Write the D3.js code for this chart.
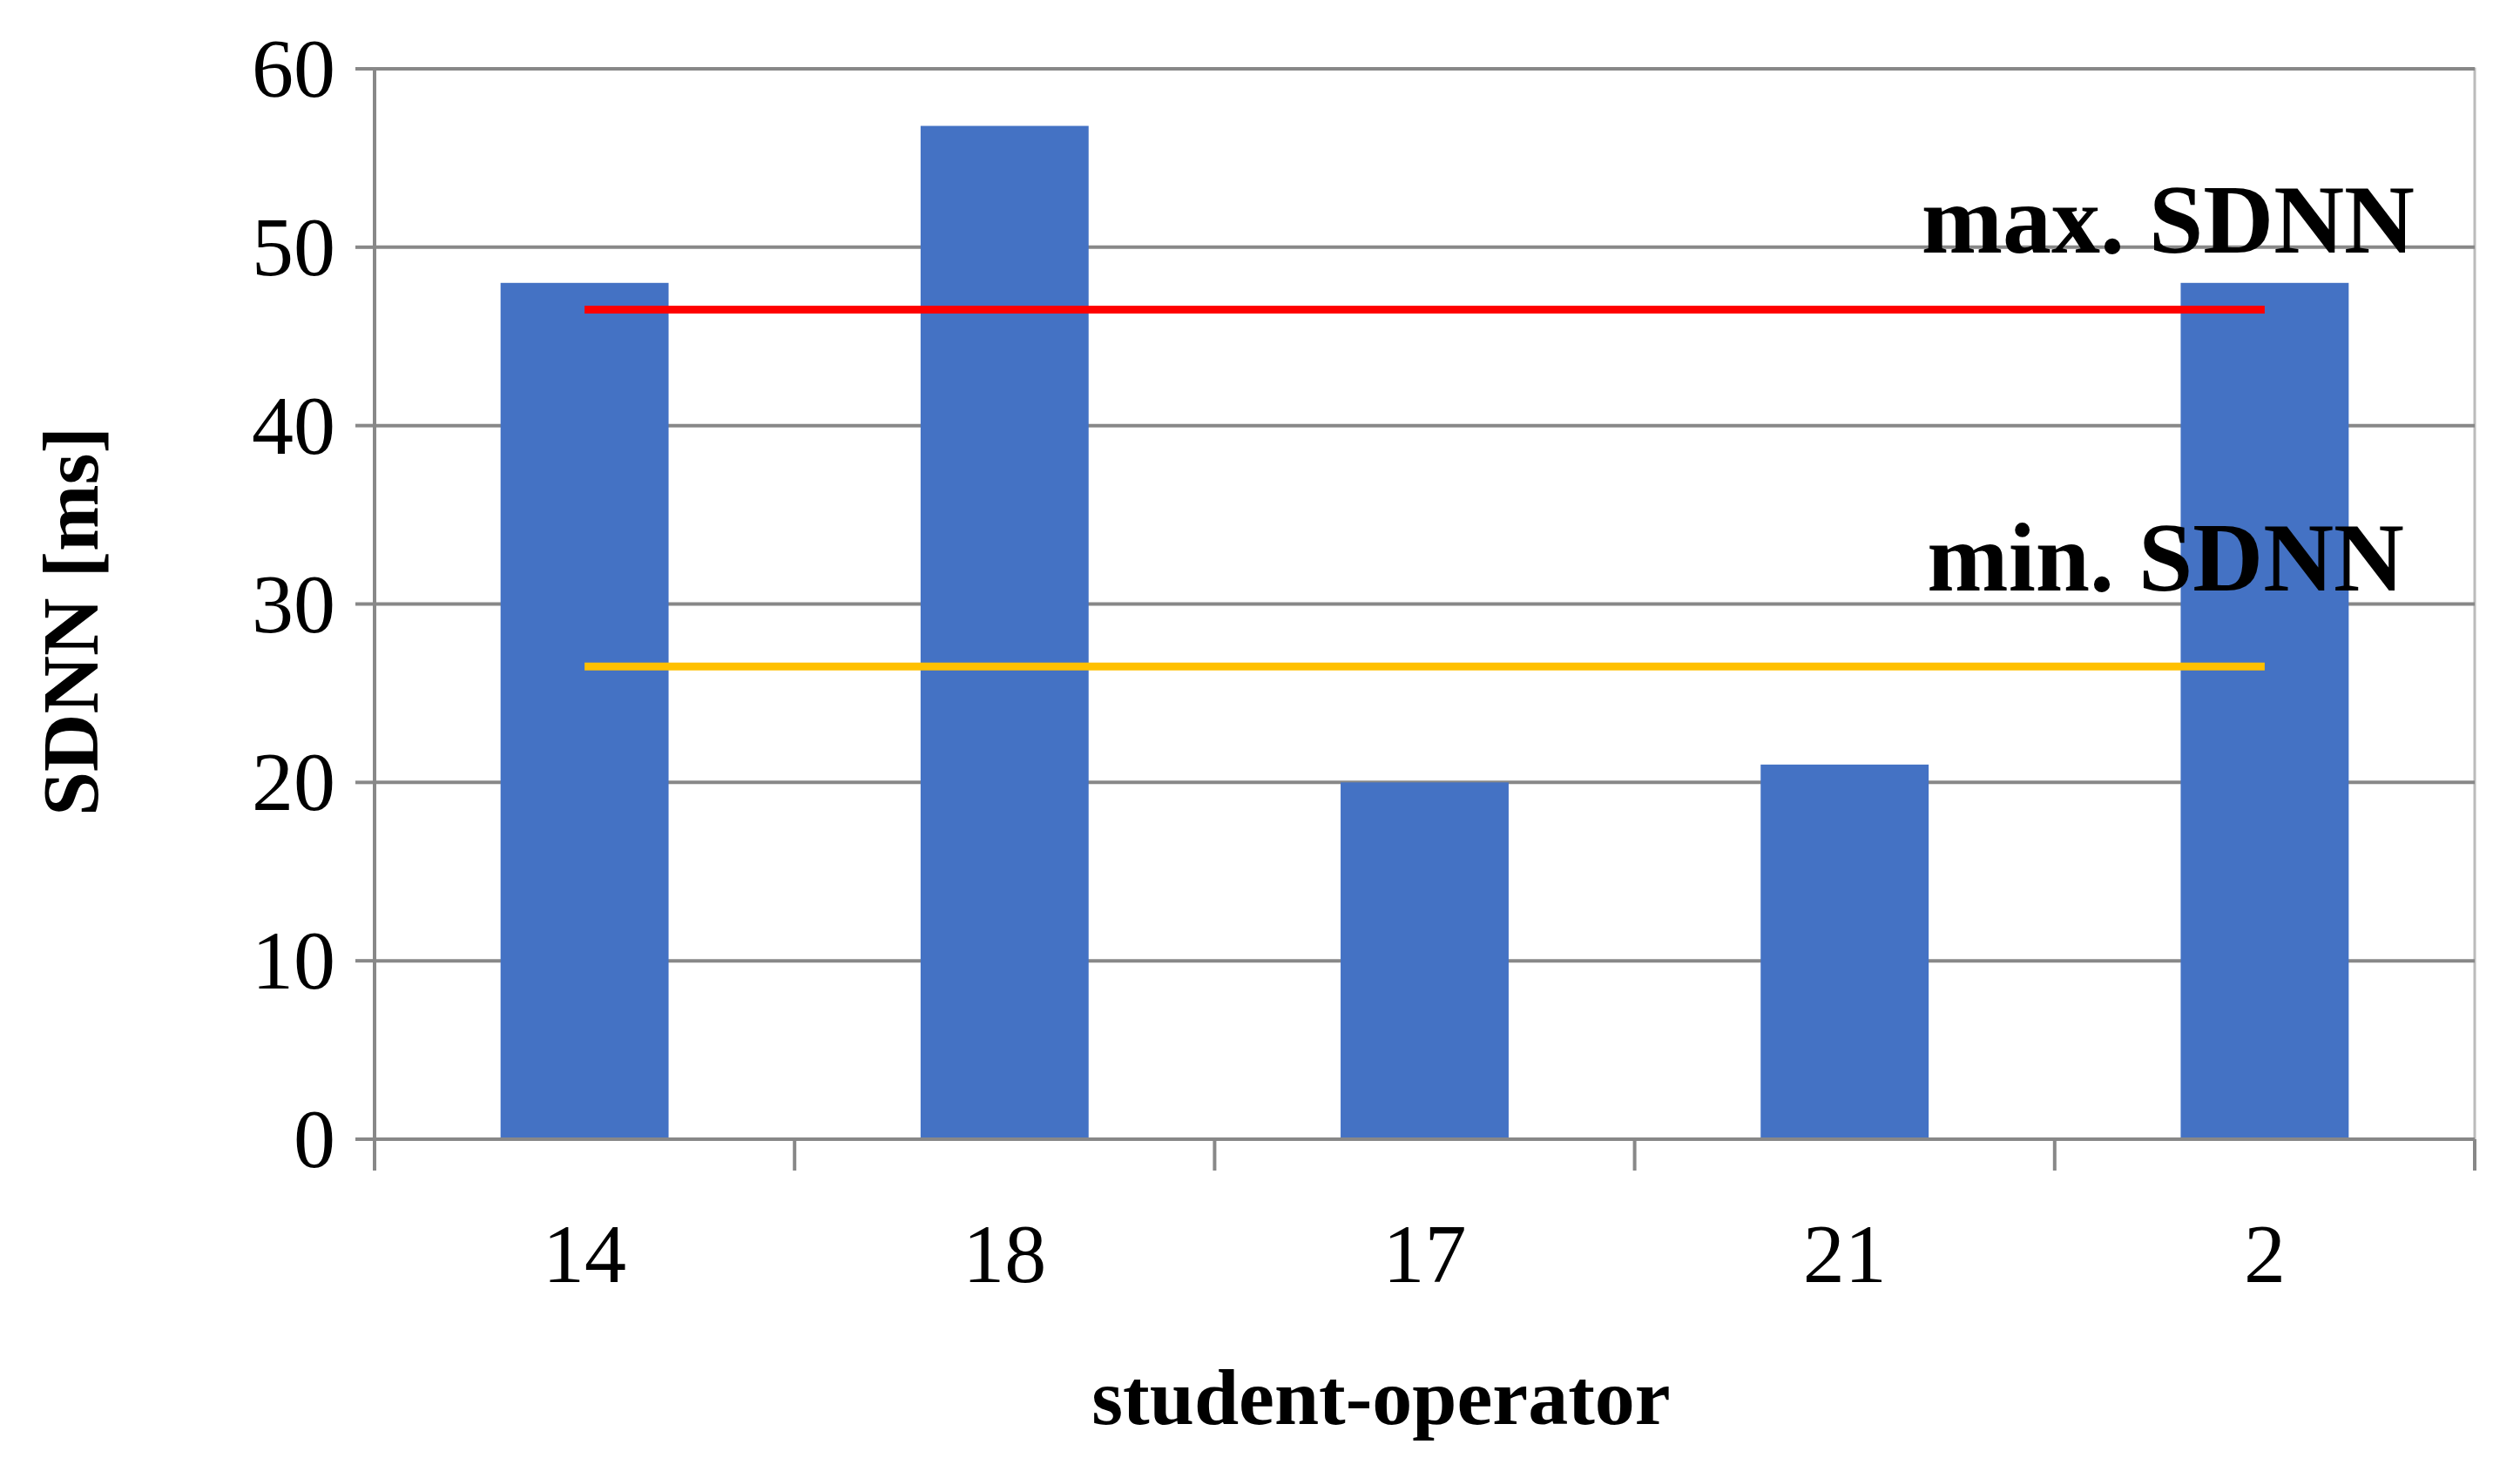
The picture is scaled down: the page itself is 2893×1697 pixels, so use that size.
<!DOCTYPE html>
<html>
<head>
<script src="https://d3js.org/d3.v7.min.js"></script>
<style>body{margin:0;background:#fff}</style>
</head>
<body>
<script>
var categories = ['14', '18', '17', '21', '2'];
var values = [48, 56.8, 20, 21, 48];
var yTicks = [0, 10, 20, 30, 40, 50, 60];
var maxSDNN = 46.5, minSDNN = 26.5;

var width = 2893, height = 1697;
var m = {left: 430, right: 52, top: 79, bottom: 389};

var svg = d3.select('body').append('svg').attr('width', width).attr('height', height)
    .style('font-family', '"Liberation Serif", "Times New Roman", serif');

var x = d3.scaleBand().domain(categories).range([m.left, width - m.right]).paddingInner(0.6).paddingOuter(0.3);
var xo = d3.scaleBand().domain(categories).range([m.left, width - m.right]);
var y = d3.scaleLinear().domain([0, 60]).range([height - m.bottom, m.top]);

// frame
svg.append('rect').attr('x', m.left).attr('y', m.top)
    .attr('width', width - m.left - m.right).attr('height', y(0) - m.top)
    .attr('fill', 'none').attr('stroke', '#bbb').attr('stroke-width', 3);

// grid
svg.selectAll('.grid').data(yTicks.slice(1)).join('line')
    .attr('x1', m.left).attr('x2', width - m.right)
    .attr('y1', d => y(d)).attr('y2', d => y(d))
    .attr('stroke', '#888').attr('stroke-width', 4);

// bars
svg.selectAll('.bar').data(values).join('rect')
    .attr('x', (d, i) => xo(categories[i]) + xo.bandwidth() * 0.3)
    .attr('width', xo.bandwidth() * 0.4)
    .attr('y', d => y(d)).attr('height', d => y(0) - y(d))
    .attr('fill', '#4472c4');

// reference lines
var c0 = xo(categories[0]) + xo.bandwidth() / 2, c4 = xo(categories[4]) + xo.bandwidth() / 2;
svg.append('line').attr('x1', c0).attr('x2', c4).attr('y1', y(maxSDNN)).attr('y2', y(maxSDNN))
    .attr('stroke', '#ff0000').attr('stroke-width', 9);
svg.append('line').attr('x1', c0).attr('x2', c4).attr('y1', y(minSDNN)).attr('y2', y(minSDNN))
    .attr('stroke', '#ffc000').attr('stroke-width', 9);

svg.append('text').attr('x', 2772).attr('y', 290).attr('text-anchor', 'end')
    .attr('font-weight', 'bold').attr('font-size', 112).text('max. SDNN');
svg.append('text').attr('x', 2760).attr('y', 678).attr('text-anchor', 'end')
    .attr('font-weight', 'bold').attr('font-size', 112).text('min. SDNN');

// y axis
svg.append('line').attr('x1', m.left).attr('x2', m.left).attr('y1', m.top).attr('y2', y(0))
    .attr('stroke', '#888').attr('stroke-width', 4);
svg.selectAll('.ytick').data(yTicks).join('line')
    .attr('x1', m.left - 22).attr('x2', m.left).attr('y1', d => y(d)).attr('y2', d => y(d))
    .attr('stroke', '#888').attr('stroke-width', 4);
svg.selectAll('.ylab').data(yTicks).join('text')
    .attr('x', m.left - 45).attr('y', d => y(d) + 32).attr('text-anchor', 'end')
    .attr('font-size', 96).text(d => d);

// x axis
svg.append('line').attr('x1', m.left).attr('x2', width - m.right).attr('y1', y(0)).attr('y2', y(0))
    .attr('stroke', '#888').attr('stroke-width', 4);
svg.selectAll('.xtick').data(d3.range(categories.length + 1)).join('line')
    .attr('x1', d => m.left + d * xo.bandwidth()).attr('x2', d => m.left + d * xo.bandwidth())
    .attr('y1', y(0)).attr('y2', y(0) + 36).attr('stroke', '#888').attr('stroke-width', 4);
svg.selectAll('.xlab').data(categories).join('text')
    .attr('x', d => xo(d) + xo.bandwidth() / 2).attr('y', 1472).attr('text-anchor', 'middle')
    .attr('font-size', 96).text(d => d);

svg.append('text').attr('x', (m.left + width - m.right) / 2 - 50).attr('y', 1635).attr('text-anchor', 'middle')
    .attr('font-weight', 'bold').attr('font-size', 92).text('student-operator');
svg.append('text').attr('transform', 'translate(112,' + ((m.top + y(0)) / 2 + 20) + ') rotate(-90)')
    .attr('text-anchor', 'middle').attr('font-weight', 'bold').attr('font-size', 92).text('SDNN [ms]');
</script>
</body>
</html>
